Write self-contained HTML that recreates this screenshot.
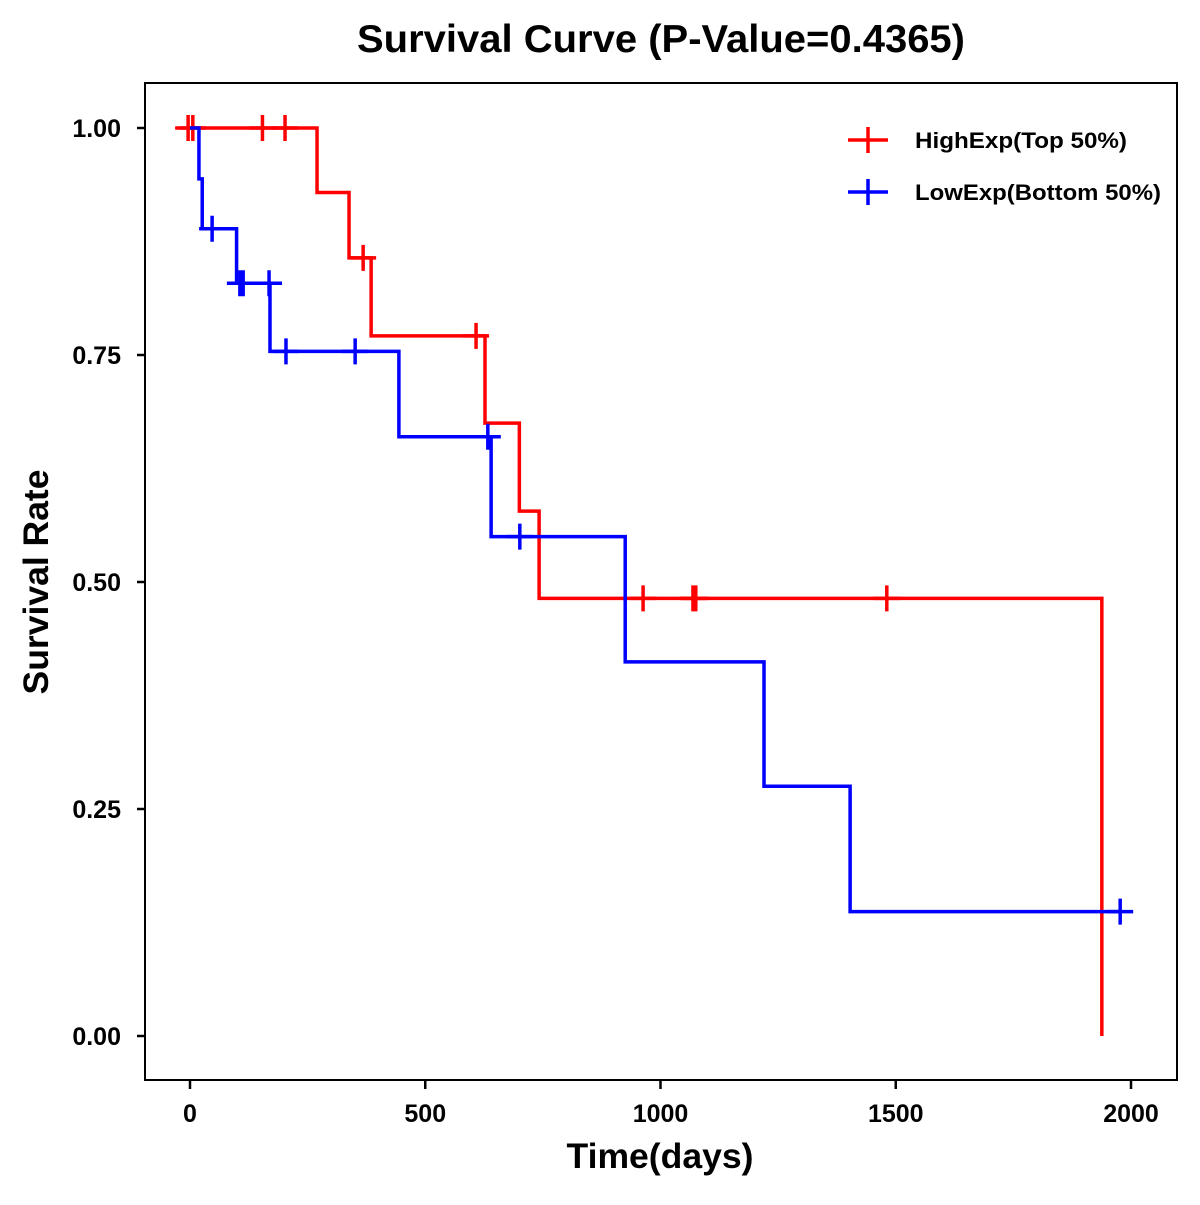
<!DOCTYPE html>
<html><head><meta charset="utf-8"><style>
body{margin:0;background:#fff}
svg text{font-family:"Liberation Sans",Arial,sans-serif;font-weight:bold}
</style></head><body>
<svg id="chart" width="1200" height="1200" xmlns="http://www.w3.org/2000/svg">
<text x="661" y="52" font-size="39" text-anchor="middle" textLength="608" lengthAdjust="spacingAndGlyphs">Survival Curve (P-Value=0.4365)</text>
<rect x="145" y="83" width="1032" height="997" fill="none" stroke="#000" stroke-width="2"/>
<text x="660" y="1168" font-size="35" text-anchor="middle" textLength="187" lengthAdjust="spacingAndGlyphs">Time(days)</text>
<text transform="translate(48,582) rotate(-90)" font-size="35" text-anchor="middle" textLength="225" lengthAdjust="spacingAndGlyphs">Survival Rate</text>
<g id="axes"></g>
<g id="series"></g>
<g>
<g>
<line x1="848" y1="140" x2="888" y2="140" stroke="red" stroke-width="3.5"/><line x1="868" y1="127" x2="868" y2="153" stroke="red" stroke-width="3.5"/>
<text x="915" y="148" font-size="22" textLength="212" lengthAdjust="spacingAndGlyphs">HighExp(Top 50%)</text></g>
<g>
<line x1="848" y1="192" x2="888" y2="192" stroke="blue" stroke-width="3.5"/><line x1="868" y1="179" x2="868" y2="205" stroke="blue" stroke-width="3.5"/>
<text x="915" y="200" font-size="22" textLength="246" lengthAdjust="spacingAndGlyphs">LowExp(Bottom 50%)</text></g>
</g>
</svg>
<script>
const xTicks=[0,500,1000,1500,2000];
const yTicks=[0,0.25,0.5,0.75,1];
const yTickLabels=["0.00","0.25","0.50","0.75","1.00"];
const highTimes=[0,270,338,385,627,700,742,1938];
const highSurv=[1,0.929,0.857,0.771,0.675,0.578,0.482,0];
const highEnd=1938;
const highCensor=[-4,6,154,202,368,608,963,1069,1075,1481];
const lowTimes=[0,19,26,99,170,444,640,925,1220,1403];
const lowSurv=[1,0.944,0.889,0.829,0.754,0.66,0.55,0.412,0.275,0.137];
const lowEnd=1977;
const lowCensor=[47,106,113,168,204,351,633,701,1977];
const NS="http://www.w3.org/2000/svg";
const X=t=>190+t*0.4705, Y=s=>1036-s*908;
function mk(tag,attrs,parent){const e=document.createElementNS(NS,tag);for(const k in attrs)e.setAttribute(k,attrs[k]);parent.appendChild(e);return e;}
const ax=document.getElementById('axes');
xTicks.forEach(t=>{
 const l=mk('line',{x1:X(t),x2:X(t),y1:1080,y2:1089,stroke:'#000','stroke-width':2.5},ax);
 
 
 const tx=mk('text',{x:X(t),y:1122,'font-size':25,'text-anchor':'middle'},ax);tx.textContent=t;
 
 
});
yTicks.forEach((v,i)=>{
 const l=mk('line',{x1:137,x2:145,y1:Y(v),y2:Y(v),stroke:'#000','stroke-width':2.5},ax);
 
 
 const tx=mk('text',{x:121,y:Y(v)+9,'font-size':25,'text-anchor':'end'},ax);tx.textContent=yTickLabels[i];
 
 
});
const sg=document.getElementById('series');
function stepAt(times,surv,t){let s=surv[0];for(let i=0;i<times.length;i++)if(times[i]<=t)s=surv[i];return s;}
function draw(times,surv,end,cens,color,name){
 let d='M'+X(times[0])+','+Y(surv[0]);
 for(let i=1;i<times.length;i++){d+='H'+X(times[i])+'V'+Y(surv[i]);}
 d+='H'+X(end);
 const p=mk('path',{d:d,fill:'none',stroke:color,'stroke-width':3.5},sg);
 
 
 cens.forEach(t=>{
  const s=stepAt(times,surv,t),cx=X(t),cy=Y(s);
  const g=mk('path',{d:`M${cx-13},${cy}H${cx+13}M${cx},${cy-13}V${cy+13}`,stroke:color,'stroke-width':3.5,fill:'none'},sg);
  
  
 });
}
draw(highTimes,highSurv,highEnd,highCensor,'red','high-exp');
draw(lowTimes,lowSurv,lowEnd,lowCensor,'blue','low-exp');
</script>
</body></html>
